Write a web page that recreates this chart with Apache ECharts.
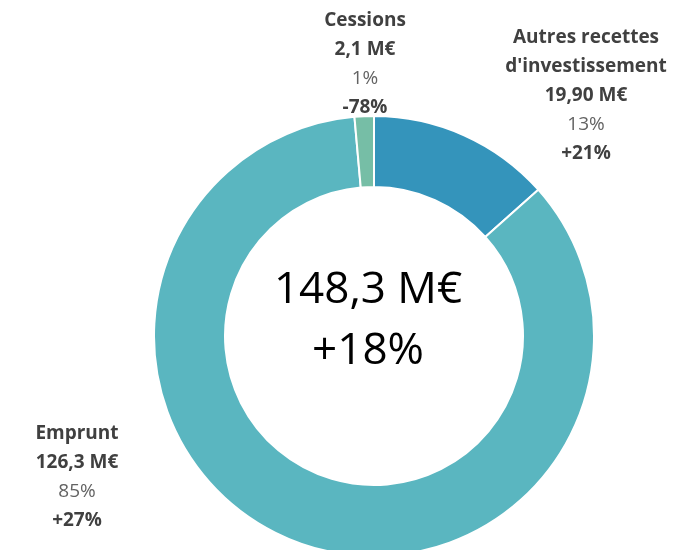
<!DOCTYPE html>
<html>
<head>
<meta charset="utf-8">
<script src="https://cdn.jsdelivr.net/npm/echarts@6/dist/echarts.min.js"></script>
<style>
    html, body { margin: 0; padding: 0; background: #fff; }
    #chart { width: 699px; height: 550px; }
</style>
</head>
<body>
<div id="chart"></div>
<script>
// données des recettes d'investissement
var names = ['Autres recettes\nd\'investissement', 'Emprunt', 'Cessions'];
var values = [19.9, 126.3, 2.1];          // M€
var valueText = ['19,90 M€', '126,3 M€', '2,1 M€'];
var shareText = ['13%', '85%', '1%'];
var changeText = ['+21%', '+27%', '-78%'];
var colors = ['#3494bb', '#5ab6c0', '#76bea6'];
var totalText = '148,3 M€';
var totalChange = '+18%';

// position des étiquettes (haut du bloc, centre horizontal)
var labelPos = [
    {x: 586, y: 23},
    {x: 77, y: 419},
    {x: 365, y: 6}
];

var pieData = [];
for (var i = 0; i < names.length; i++) {
    pieData.push({
        name: names[i],
        value: values[i],
        itemStyle: {color: colors[i]}
    });
}

var chart = echarts.init(document.getElementById('chart'));
var option = {
    animation: false,
    graphic: [{
        type: 'text',
        x: 368,
        y: 321,
        style: {
            text: totalText + '\n' + totalChange,
            align: 'center',
            verticalAlign: 'middle',
            font: '44px "Open Sans", sans-serif',
            lineHeight: 61,
            fill: '#000'
        }
    }],
    series: [{
        type: 'pie',
        center: [374, 336],
        radius: [149, 220],
        startAngle: 90,
        clockwise: true,
        itemStyle: {
            borderColor: '#fff',
            borderWidth: 2
        },
        label: {
            show: true,
            position: 'outside',
            formatter: function (p) {
                var i = p.dataIndex;
                var lines = names[i].split('\n').map(function (s) {
                    return '{b|' + s + '}';
                });
                lines.push('{b|' + valueText[i] + '}');
                lines.push('{r|' + shareText[i] + '}');
                lines.push('{b|' + changeText[i] + '}');
                return lines.join('\n');
            },
            rich: {
                b: {
                    fontFamily: '"Open Sans", sans-serif',
                    fontWeight: 'bold',
                    fontSize: 19,
                    lineHeight: 29,
                    color: '#404040',
                    align: 'center'
                },
                r: {
                    fontFamily: '"Open Sans", sans-serif',
                    fontSize: 19,
                    lineHeight: 29,
                    color: '#636363',
                    align: 'center'
                }
            }
        },
        labelLine: {show: false},
        labelLayout: function (params) {
            var p = labelPos[params.dataIndex];
            return {
                x: p.x,
                y: p.y,
                align: 'center',
                verticalAlign: 'top'
            };
        },
        emphasis: {disabled: true},
        data: pieData
    }]
};
chart.setOption(option);
</script>
</body>
</html>
